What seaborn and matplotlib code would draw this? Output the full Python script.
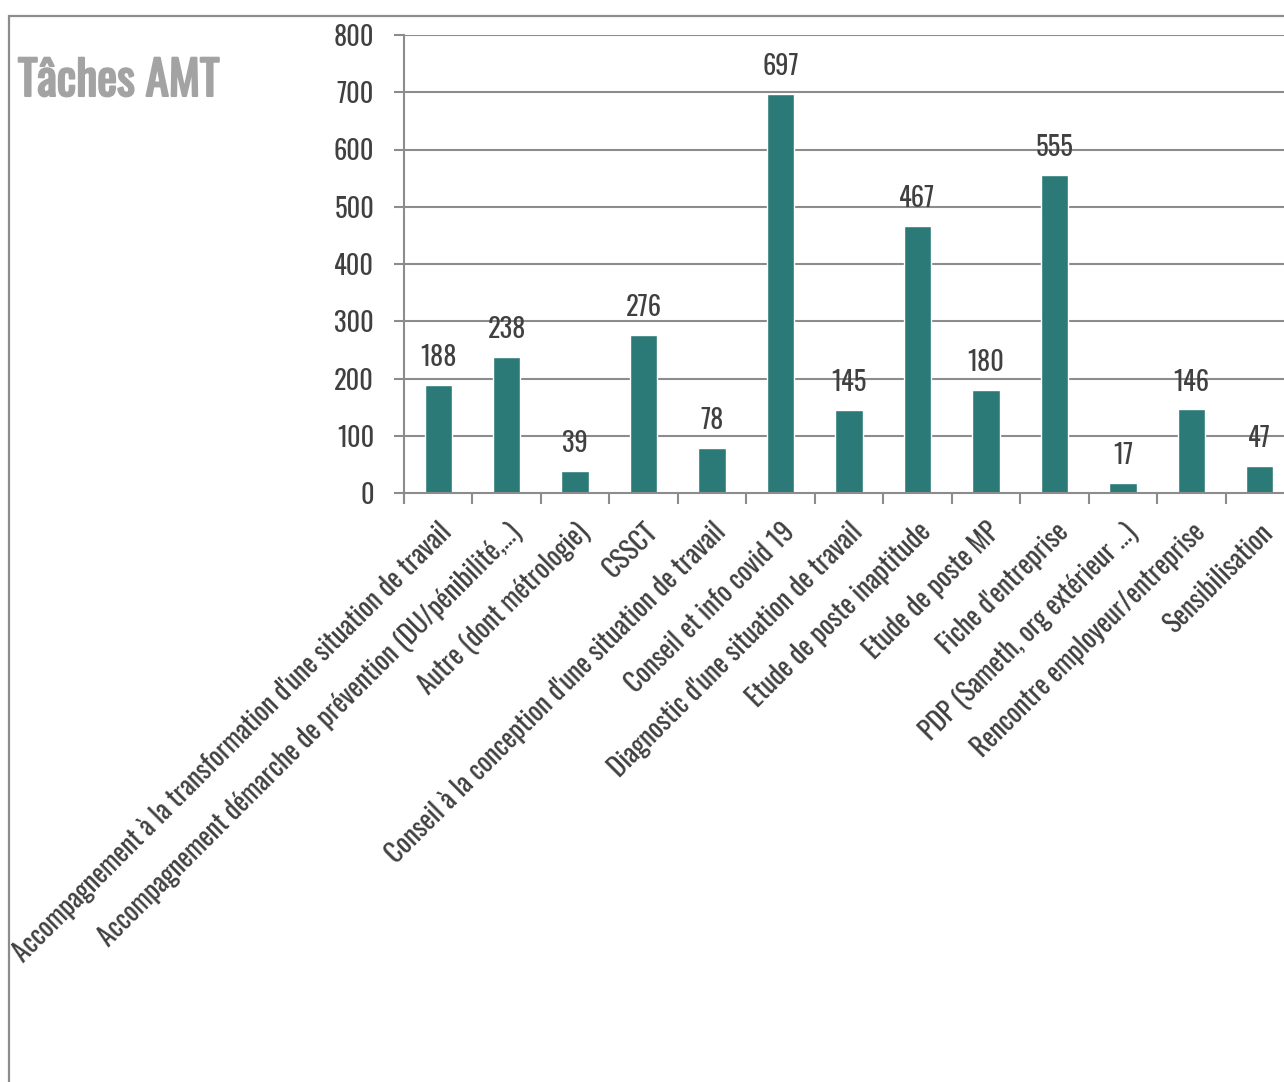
import matplotlib
matplotlib.use("Agg")
import matplotlib.pyplot as plt
import matplotlib.patheffects as pe
import seaborn as sns
import pandas as pd
from matplotlib.patches import Rectangle
from matplotlib.ticker import FixedLocator

categories = [
    "Accompagnement à la transformation d'une situation de travail",
    "Accompagnement démarche de prévention (DU/pénibilité,...)",
    "Autre (dont métrologie)",
    "CSSCT",
    "Conseil à la conception d'une situation de travail",
    "Conseil et info covid 19",
    "Diagnostic d'une situation de travail",
    "Etude de poste inaptitude",
    "Etude de poste MP",
    "Fiche d'entreprise",
    "PDP (Sameth, org extérieur ...)",
    "Rencontre employeur/entreprise",
    "Sensibilisation",
]
values = [188, 238, 39, 276, 78, 697, 145, 467, 180, 555, 17, 146, 47]
yticks = [0, 100, 200, 300, 400, 500, 600, 700, 800]
title = "Tâches AMT"

sns.set_style("white")
plt.rcParams['font.family'] = ['Oswald', 'DejaVu Sans']

W, H = 1284, 1082
fig = plt.figure(figsize=(W / 100, H / 100), dpi=100)

# outer frame (cropped at right/bottom)
fig.patches.append(Rectangle((8.5 / W, -0.1), 1.2, (H - 15.5) / H + 0.1,
                             transform=fig.transFigure, fill=False,
                             edgecolor="#8c8c8c", linewidth=1.6, zorder=0))

ax = fig.add_axes([404 / W, (H - 493) / H, 890 / W, (493 - 35) / H])
df = pd.DataFrame({"cat": categories, "val": values})
sns.barplot(data=df, x="cat", y="val", color="#2B7A77", saturation=1,
            width=0.4, ax=ax, zorder=3)

ax.set_xlim(-0.5, len(categories) - 0.5)
ax.set_ylim(0, 800)
ax.set_yticks(yticks)
ax.set_yticklabels([str(t) for t in yticks])
ax.set_xlabel("")
ax.set_ylabel("")

gc = "#8c8c8c"
for y in yticks[1:]:
    ax.axhline(y, color=gc, linewidth=1.5, zorder=1)

for s in ["top", "right"]:
    ax.spines[s].set_visible(False)
for s in ["left", "bottom"]:
    ax.spines[s].set_color(gc)
    ax.spines[s].set_linewidth(1.5)
ax.spines["left"].set_bounds(-15, 800)
ax.spines["bottom"].set_zorder(4)

ax.tick_params(axis="y", which="major", left=True, length=7.5, width=1.5,
               color=gc, pad=14, labelsize=19, labelcolor="#404040")
ax.set_ylim(0, 800)

# x ticks at category boundaries
ax.xaxis.set_minor_locator(FixedLocator([i - 0.5 for i in range(len(categories) + 1)]))
ax.tick_params(axis="x", which="minor", bottom=True, length=8, width=1.5,
               color=gc, direction="out")
ax.tick_params(axis="x", which="major", bottom=False, length=0, pad=18)
ax.set_xticks(range(len(categories)))
ax.set_xticklabels(categories, rotation=45, ha="right", rotation_mode="anchor",
                   fontsize=19.4, color="#404040")

for c in ax.containers:
    ax.bar_label(c, labels=[str(v) for v in values], padding=10,
                 fontsize=19, color="#404040")

fig.text(18 / W, 1 - 81 / H, title, fontsize=34,
         color="#a3a3a3", ha="left", va="center",
         path_effects=[pe.withStroke(linewidth=1.5, foreground="#a3a3a3")])

fig.savefig("out.png", dpi=100)
